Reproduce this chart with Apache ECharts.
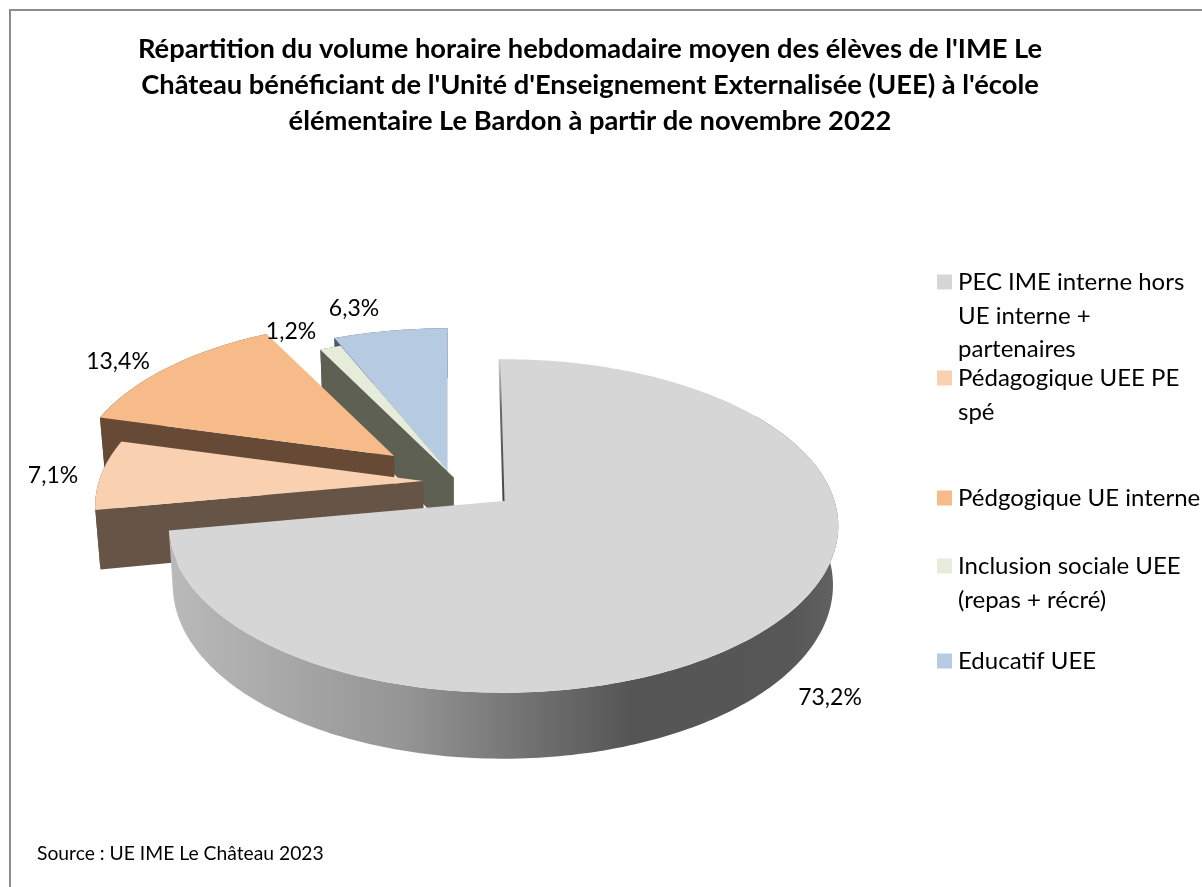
<!DOCTYPE html>
<html><head><meta charset="utf-8">
<style>html,body{margin:0;padding:0;background:#fff;overflow:hidden}#c{width:1202px;height:887px}</style>
<script src="https://cdn.jsdelivr.net/npm/echarts@6/dist/echarts.min.js"></script>
</head><body><div id="c"></div>
<script>
const categories = ["PEC IME interne hors", "Pédagogique UEE PE", "Pédgogique UE interne", "Inclusion sociale UEE", "Educatif UEE"];
const categoryContinuation = [["UE interne +", "partenaires"], ["spé"], [], ["(repas + récré)"], []];
const values = [73.2, 7.1, 13.4, 1.2, 6.3];
const titleText = "Répartition du volume horaire hebdomadaire moyen des élèves de l'IME Le\nChâteau bénéficiant de l'Unité d'Enseignement Externalisée (UEE) à l'école\nélémentaire Le Bardon à partir de novembre 2022";
const sourceText = "Source : UE IME Le Château 2023";

// styling & projection
const FONT = 'Lato';
const topColors = ['#d6d6d6', '#f9d1b0', '#f6bb89', '#e5ecd9', '#b6cbe2'];
const wallColors = ['#8a8a8a', '#665446', '#664a36', '#5f6054', '#4a5a6b'];
const explode = [0.18, 0.105, 0.25, 0.03, 0.10];
const nudge = [[0,0],[0,0],[0,0],[0,0],[-4,4]];
const depthScale = [1, 0.98, 0.955, 1, 1];
const C = [458, 482], A = 331, B = 163, K = 0.15;
const warp = [[0,0.8],[60,0],[180,0],[263,0.6],[289,0.8],[337,0.5],[341,0.5],[360,0]];
const labelPos = [[830,698],[53,476],[118,362],[291,332],[354,309]];
const legendTop = [270, 366, 486, 554, 649];
const legendLineStep = 33;

const total = values.reduce((a,b)=>a+b,0);
const rad = d => d*Math.PI/180;
function warped(t){
  for(let i=1;i<warp.length;i++){
    if(t<=warp[i][0]){
      const f=(t-warp[i-1][0])/(warp[i][0]-warp[i-1][0]);
      return t-(warp[i-1][1]+f*(warp[i][1]-warp[i-1][1]));
    }
  }
  return t;
}
function bounds(i){
  let s=0; for(let j=0;j<i;j++) s+=values[j];
  return [s/total*360,(s+values[i])/total*360];
}
function tip(i){
  const [a,b]=bounds(i), m=rad((a+b)/2);
  return [C[0]+explode[i]*A*Math.sin(m)+nudge[i][0], C[1]-explode[i]*B*Math.cos(m)+nudge[i][1]];
}
function rim(i,t){
  const T=tip(i), e=rad(warped(t)), u=Math.sin(e), v=Math.cos(e), w=1+K*v, s=depthScale[i];
  return {x:T[0]+s*A*u/w, y:T[1]-s*B*v/w, v};
}
function lower(p){ return [p.x+(C[0]-p.x)*0.014, p.y+58-8*p.v]; }
function arc(i){
  const [a,b]=bounds(i), pts=[], n=Math.max(4,Math.ceil(b-a));
  for(let k=0;k<=n;k++) pts.push(rim(i,a+(b-a)*k/n));
  return pts;
}
function renderSlice(i){
  const pts=arc(i), T=tip(i);
  const tipP={x:T[0],y:T[1],v:0};
  const top=[T].concat(pts.map(p=>[p.x,p.y]));
  const wallPts = i===0 ? pts.filter(p=>p.x>T[0]+250||p.v<0) : pts;
  const wall=wallPts.map(p=>[p.x,p.y]).concat(wallPts.slice().reverse().map(lower));
  const wallFill = i===0
    ? new echarts.graphic.LinearGradient(0,0,1,0,[
        {offset:0,color:'#bababa'},{offset:0.35,color:'#959595'},{offset:0.69,color:'#555555'},
        {offset:0.93,color:'#575757'},{offset:1,color:'#636363'}])
    : wallColors[i];
  const children=[
    {type:'polygon',shape:{points:wall},style:{fill:wallFill}},
  ];
  if(i>0){
    const s=pts[0];
    children.push({type:'polygon',shape:{points:[[s.x,s.y],T,lower(tipP),lower(s)]},style:{fill:wallColors[i]}});
  }
  children.push({type:'polygon',shape:{points:top},style:{fill:topColors[i]}});
  if(i===0){
    const s=pts[0];
    children.push({type:'line',shape:{x1:s.x,y1:s.y,x2:T[0],y2:T[1]},
      style:{lineWidth:2,stroke:new echarts.graphic.LinearGradient(0,0,0,1,[{offset:0,color:'#d6d6d6'},{offset:0.35,color:'#6a6a6a'},{offset:1,color:'#444444'}])}});
  }
  return {type:'group',children};
}
const sliceSeries=categories.map((name,i)=>({
  type:'custom',name,coordinateSystem:'none',z:10-i+ (i===0?10:0),silent:true,
  itemStyle:{color:topColors[i]},
  data:[[values[i]]],
  renderItem:()=>renderSlice(i)
}));
const labelSeries={
  type:'custom',name:'labels',coordinateSystem:'none',z:50,silent:true,
  data:values.map(v=>[v]),
  renderItem:(params,api)=>{
    const i=params.dataIndex;
    return {type:'text',x:labelPos[i][0],y:labelPos[i][1],
      style:{text:api.value(0).toFixed(1).replace('.',',')+'%',fill:'#000',
        font:'23px '+FONT,align:'center',verticalAlign:'middle'}};
  }
};
const legends=categories.map((name,i)=>({
  show:true,left:937,top:legendTop[i],orient:'vertical',data:[name],icon:'rect',
  itemWidth:15,itemHeight:15,itemGap:0,padding:0,selectedMode:false,
  textStyle:{color:'#000',fontFamily:FONT,fontSize:24,padding:[0,0,0,1]}
}));
const contGraphics=[];
categoryContinuation.forEach((lines,i)=>lines.forEach((txt,j)=>{
  contGraphics.push({type:'text',x:958,y:legendTop[i]+13+legendLineStep*(j+1),
    style:{text:txt,fill:'#000',font:'24px '+FONT,verticalAlign:'middle'}});
}));
const chart=echarts.init(document.getElementById('c'),null,{renderer:'canvas'});
chart.setOption({
  animation:false,backgroundColor:'#fff',
  title:{text:titleText,left:585,top:26,textAlign:'center',
    textStyle:{fontFamily:FONT,fontWeight:'bold',fontSize:27.3,lineHeight:36,color:'#000'}},
  legend:legends,
  graphic:[
    {type:'line',shape:{x1:9,y1:10,x2:1202,y2:10},style:{stroke:'#8c8c8c',lineWidth:2}},
    {type:'line',shape:{x1:10,y1:9,x2:10,y2:887},style:{stroke:'#8c8c8c',lineWidth:2}},
    {type:'text',x:37,y:854,style:{text:sourceText,fill:'#000',font:'19.3px '+FONT,verticalAlign:'middle'}},
    ...contGraphics
  ],
  series:[...sliceSeries,labelSeries]
});
</script></body></html>
